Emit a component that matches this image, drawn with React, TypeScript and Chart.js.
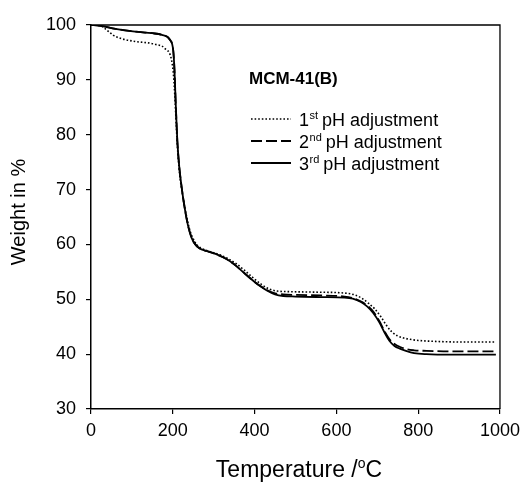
import React, { useEffect, useRef } from "react";
import { Chart, registerables } from "chart.js";

Chart.register(...registerables);

// ---- Data ----
const TEMP_1 = [0, 25, 40, 55, 75, 108, 156, 181, 197, 202, 205, 209, 213, 218, 224, 230, 236, 242, 250, 258, 270, 290, 315, 335, 355, 375, 395, 415, 435, 455, 480, 550, 625, 645, 662, 678, 693, 708, 722, 735, 748, 762, 780, 800, 850, 920, 990];
const WEIGHT_1 = [100, 99.8, 99.0, 98.1, 97.5, 97.0, 96.5, 95.7, 93.6, 90.6, 87, 81, 76, 72, 69, 66.5, 64.3, 62.5, 61.0, 60.0, 59.3, 58.7, 58.1, 57.4, 56.5, 55.3, 54.0, 52.8, 51.9, 51.5, 51.4, 51.3, 51.1, 50.8, 50.2, 49.3, 48.3, 46.9, 45.3, 44.1, 43.4, 43.0, 42.7, 42.5, 42.3, 42.2, 42.2];

const TEMP_2 = [0, 20, 60, 108, 150, 173, 193, 201, 204, 207, 211, 216, 221, 226, 232, 238, 246, 254, 265, 283, 310, 330, 350, 370, 390, 410, 430, 450, 470, 500, 560, 620, 645, 663, 678, 692, 706, 719, 731, 743, 756, 771, 790, 820, 880, 990];
const WEIGHT_2 = [100, 99.9, 99.3, 98.8, 98.5, 98.2, 97.3, 95.4, 92, 86, 79, 74, 70.8, 68.1, 65.4, 63.2, 61.2, 60.1, 59.3, 58.8, 58.1, 57.4, 56.4, 55.1, 53.8, 52.6, 51.7, 51.1, 50.9, 50.8, 50.7, 50.5, 50.1, 49.5, 48.7, 47.6, 45.9, 44.0, 42.6, 41.8, 41.3, 40.9, 40.7, 40.6, 40.5, 40.5];

const TEMP_3 = [0, 20, 60, 108, 150, 173, 193, 201, 204, 207, 211, 216, 221, 226, 232, 238, 246, 254, 265, 283, 310, 330, 350, 370, 390, 410, 430, 450, 470, 500, 560, 620, 640, 660, 675, 690, 705, 718, 730, 742, 755, 770, 790, 820, 880, 990];
const WEIGHT_3 = [100, 99.9, 99.3, 98.8, 98.5, 98.2, 97.3, 95.4, 92, 86, 79, 74, 70.8, 68.1, 65.4, 63.2, 61.2, 60.1, 59.3, 58.8, 58.1, 57.4, 56.4, 55.1, 53.8, 52.6, 51.6, 50.9, 50.6, 50.5, 50.4, 50.3, 50.1, 49.5, 48.7, 47.5, 45.8, 43.9, 42.4, 41.5, 41.0, 40.6, 40.2, 40.0, 39.9, 39.9];

const ORDINAL_NUM = ["1", "2", "3"];
const ORDINAL_SUFFIX = ["st", "nd", "rd"];
const LEGEND_REST = "pH adjustment";
const LEGEND_TITLE = "MCM-41(B)";

const X_MIN = 0, X_MAX = 1000, X_STEP = 200;
const Y_MIN = 30, Y_MAX = 100, Y_STEP = 10;
const X_TITLE_MAIN = "Temperature /";
const X_TITLE_SUP = "o";
const X_TITLE_END = "C";
const Y_TITLE = "Weight in %";

const FONT = "'Liberation Sans', Arial, Helvetica, sans-serif";

const boxPlugin = {
  id: "boxPlugin",
  afterDraw(chart: any) {
    const { ctx, chartArea } = chart;
    const { left, top, right, bottom } = chartArea;
    ctx.save();
    ctx.strokeStyle = "#000";
    ctx.lineWidth = 1.3;
    ctx.beginPath();
    ctx.moveTo(left, top);
    ctx.lineTo(right, top);
    ctx.lineTo(right, bottom);
    ctx.stroke();

    // legend
    ctx.fillStyle = "#000";
    ctx.textBaseline = "middle";
    ctx.textAlign = "left";
    ctx.font = `bold 17px ${FONT}`;
    ctx.fillText(LEGEND_TITLE, 249, 79);

    const rows = [119, 141, 163];
    chart.data.datasets.forEach((ds: any, i: number) => {
      const y = rows[i];
      ctx.save();
      ctx.strokeStyle = "#000";
      ctx.lineWidth = ds.borderWidth;
      ctx.setLineDash(ds.borderDash || []);
      ctx.beginPath();
      ctx.moveTo(251, y);
      ctx.lineTo(291, y);
      ctx.stroke();
      ctx.restore();
      let x = 299;
      ctx.font = `18px ${FONT}`;
      ctx.textBaseline = "alphabetic";
      const base = y + 6.5;
      ctx.fillText(ORDINAL_NUM[i], x, base);
      x += ctx.measureText(ORDINAL_NUM[i]).width + 0.5;
      ctx.font = `11px ${FONT}`;
      ctx.fillText(ORDINAL_SUFFIX[i], x, base - 7);
      x += ctx.measureText(ORDINAL_SUFFIX[i]).width + 4;
      ctx.font = `18px ${FONT}`;
      ctx.fillText(LEGEND_REST, x, base);
    });

    // x title with superscript o
    ctx.textBaseline = "alphabetic";
    ctx.font = `23px ${FONT}`;
    const w1 = ctx.measureText(X_TITLE_MAIN).width;
    ctx.font = `14px ${FONT}`;
    const w2 = ctx.measureText(X_TITLE_SUP).width;
    ctx.font = `23px ${FONT}`;
    const w3 = ctx.measureText(X_TITLE_END).width;
    const total = w1 + w2 + w3;
    let tx = 299 - total / 2;
    const ty = 477;
    ctx.fillText(X_TITLE_MAIN, tx, ty);
    tx += w1;
    ctx.font = `14px ${FONT}`;
    ctx.fillText(X_TITLE_SUP, tx, ty - 9);
    tx += w2;
    ctx.font = `23px ${FONT}`;
    ctx.fillText(X_TITLE_END, tx, ty);

    // y title
    ctx.save();
    ctx.translate(19, 212);
    ctx.rotate(-Math.PI / 2);
    ctx.textAlign = "center";
    ctx.textBaseline = "middle";
    ctx.font = `20px ${FONT}`;
    ctx.fillText(Y_TITLE, 0, 0);
    ctx.restore();

    ctx.restore();
  },
};

function toPoints(xs: number[], ys: number[]) {
  return xs.map((x, i) => ({ x, y: ys[i] }));
}

export default function App() {
  const ref = useRef<HTMLCanvasElement | null>(null);
  useEffect(() => {
    if (!ref.current) return;
    const chart = new Chart(ref.current, {
      type: "line",
      data: {
        datasets: [
          {
            label: `${ORDINAL_NUM[0]}${ORDINAL_SUFFIX[0]} ${LEGEND_REST}`,
            data: toPoints(TEMP_1, WEIGHT_1),
            borderColor: "#000",
            borderWidth: 1.6,
            borderDash: [1.6, 2],
            pointRadius: 0,
            cubicInterpolationMode: "monotone",
            fill: false,
          },
          {
            label: `${ORDINAL_NUM[1]}${ORDINAL_SUFFIX[1]} ${LEGEND_REST}`,
            data: toPoints(TEMP_2, WEIGHT_2),
            borderColor: "#000",
            borderWidth: 1.8,
            borderDash: [11, 4],
            pointRadius: 0,
            cubicInterpolationMode: "monotone",
            fill: false,
          },
          {
            label: `${ORDINAL_NUM[2]}${ORDINAL_SUFFIX[2]} ${LEGEND_REST}`,
            data: toPoints(TEMP_3, WEIGHT_3),
            borderColor: "#000",
            borderWidth: 1.8,
            pointRadius: 0,
            cubicInterpolationMode: "monotone",
            fill: false,
          },
        ],
      },
      options: {
        responsive: false,
        animation: false,
        devicePixelRatio: 1,
        layout: { padding: { left: 0, right: 25, top: 25, bottom: 0 } },
        plugins: { legend: { display: false }, tooltip: { enabled: false } },
        scales: {
          x: {
            type: "linear",
            min: X_MIN,
            max: X_MAX,
            afterFit: (s: any) => { s.height = 73; },
            ticks: { stepSize: X_STEP, color: "#000", font: { family: FONT, size: 18 }, padding: 6, maxRotation: 0, callback: (v: any) => String(v) },
            grid: { drawOnChartArea: false, drawTicks: true, tickLength: 5, color: "#000", lineWidth: 1.2 },
            border: { display: true, color: "#000", width: 1.5 },
            title: { display: false },
          },
          y: {
            type: "linear",
            min: Y_MIN,
            max: Y_MAX,
            afterFit: (s: any) => { s.width = 91; },
            ticks: { stepSize: Y_STEP, color: "#000", font: { family: FONT, size: 18 }, padding: 10, callback: (v: any) => String(v) },
            grid: { drawOnChartArea: false, drawTicks: true, tickLength: 5, color: "#000", lineWidth: 1.2 },
            border: { display: true, color: "#000", width: 1.5 },
            title: { display: false },
          },
        },
      },
      plugins: [boxPlugin],
    });
    return () => chart.destroy();
  }, []);
  return (
    <div style={{ position: "fixed", left: 0, top: 0, width: 526, height: 482, background: "#fff" }}>
      <canvas ref={ref} width={526} height={482} style={{ display: "block" }} />
    </div>
  );
}
